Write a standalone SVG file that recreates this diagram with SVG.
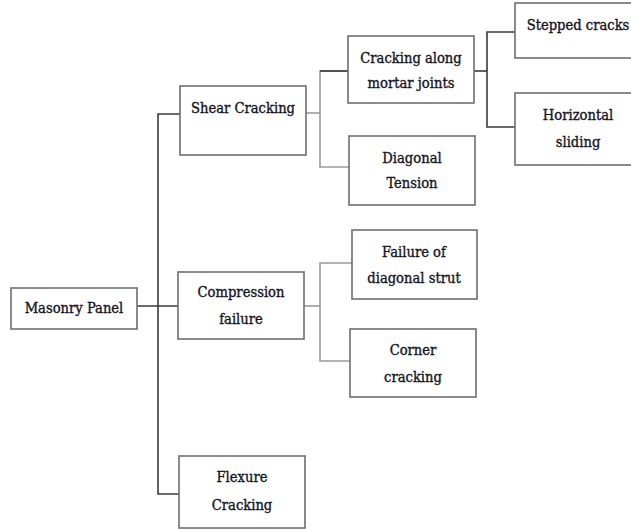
<svg xmlns="http://www.w3.org/2000/svg" width="631" height="529" viewBox="0 0 631 529">
  <style>
    .box { fill: #ffffff; stroke: #6e6e6e; stroke-width: 1.6; }
    .lbl { font-family: 'DejaVu Serif Condensed', 'DejaVu Serif', 'Liberation Serif', serif; font-size: 14.6px; fill: #14141e; text-anchor: middle; stroke: #14141e; stroke-width: 0.35; }
    .dark { fill: none; stroke: #3a3a3a; stroke-width: 1.6; }
    .light { fill: none; stroke: #9a9a9a; stroke-width: 1.6; }
  </style>
  <rect width="631" height="529" fill="#ffffff"/>

  <!-- connectors -->
  <g id="connectors">
    <!-- root trunk -->
    <path class="dark" d="M137 306 H178"/>
    <path class="dark" d="M180 114 H158 V494 H179"/>
    <!-- shear cracking branch -->
    <path class="light" d="M306 113 H320"/>
    <path class="light" d="M348 71 H320 V167 H349"/>
    <path class="dark" d="M320 71 H348"/>
    <!-- mortar joints branch -->
    <path class="dark" d="M474 71 H487"/>
    <path class="dark" d="M515 32 H487 V127 H515"/>
    <!-- compression branch -->
    <path class="light" d="M304 306 H320"/>
    <path class="light" d="M352 263 H320 V361 H350"/>
  </g>

  <g id="masonry-panel">
    <rect class="box" x="11" y="288" width="126" height="41"/>
    <text class="lbl" x="74" y="313">Masonry Panel</text>
  </g>

  <g id="shear-cracking">
    <rect class="box" x="180" y="86" width="126" height="69"/>
    <text class="lbl" x="243" y="113">Shear Cracking</text>
  </g>

  <g id="compression-failure">
    <rect class="box" x="178" y="272" width="126" height="67"/>
    <text class="lbl" x="241" y="297">Compression</text>
    <text class="lbl" x="241" y="324">failure</text>
  </g>

  <g id="flexure-cracking">
    <rect class="box" x="179" y="456" width="126" height="72"/>
    <text class="lbl" x="242" y="482">Flexure</text>
    <text class="lbl" x="242" y="510">Cracking</text>
  </g>

  <g id="mortar-joints">
    <rect class="box" x="348" y="36" width="126" height="67"/>
    <text class="lbl" x="411" y="63">Cracking along</text>
    <text class="lbl" x="411" y="88">mortar joints</text>
  </g>

  <g id="diagonal-tension">
    <rect class="box" x="349" y="136" width="126" height="69"/>
    <text class="lbl" x="412" y="163">Diagonal</text>
    <text class="lbl" x="412" y="188">Tension</text>
  </g>

  <g id="stepped-cracks">
    <rect class="box" x="515" y="3" width="126" height="55"/>
    <text class="lbl" x="578" y="30">Stepped cracks</text>
  </g>

  <g id="horizontal-sliding">
    <rect class="box" x="515" y="93" width="126" height="72"/>
    <text class="lbl" x="578" y="120">Horizontal</text>
    <text class="lbl" x="578" y="147">sliding</text>
  </g>

  <g id="diagonal-strut">
    <rect class="box" x="352" y="230" width="125" height="69"/>
    <text class="lbl" x="414" y="257">Failure of</text>
    <text class="lbl" x="414" y="283">diagonal strut</text>
  </g>

  <g id="corner-cracking">
    <rect class="box" x="350" y="329" width="126" height="68"/>
    <text class="lbl" x="413" y="355">Corner</text>
    <text class="lbl" x="413" y="382">cracking</text>
  </g>
</svg>
